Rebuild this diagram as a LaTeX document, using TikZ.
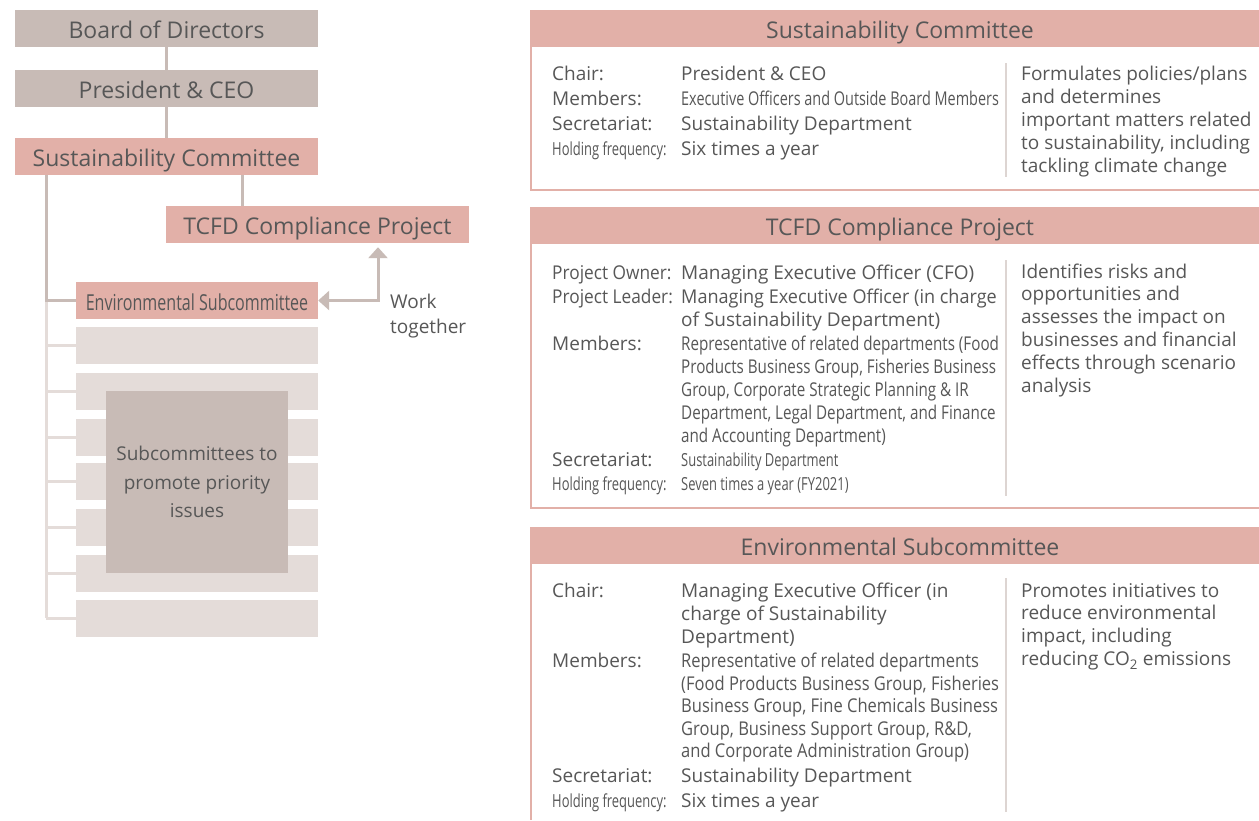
\documentclass[tikz,border=0pt]{standalone}
\usepackage{fontspec}
\setmainfont{Open Sans}
\newfontfamily\condA[FakeStretch=0.72]{Open Sans}
\newfontfamily\condB[FakeStretch=0.80]{Open Sans}
\newfontfamily\condC[FakeStretch=0.87]{Open Sans}
\newfontfamily\condD[FakeStretch=0.76]{Open Sans}
\newfontfamily\condL[FakeStretch=0.91]{Open Sans}
\newfontfamily\condE[FakeStretch=0.73]{Open Sans}
\newfontfamily\condF[FakeStretch=0.95]{Open Sans}
\usetikzlibrary{arrows.meta}
\definecolor{taupe}{HTML}{C8BBB6}
\definecolor{pinkc}{HTML}{E2B0A8}
\definecolor{lightg}{HTML}{E4DCD9}
\definecolor{txt}{HTML}{575757}
\definecolor{divc}{HTML}{DDD5D2}
\tikzset{
  box/.style={minimum height=37pt, inner sep=0pt, text=txt, text height=19pt, text depth=0pt,
              font=\fontsize{23}{27}\selectfont},
  gbox/.style={box, fill=taupe, minimum width=303pt},
  pbox/.style={box, fill=pinkc, minimum width=303pt},
  lbox/.style={fill=lightg, minimum width=242pt, minimum height=37pt, inner sep=0pt},
  conn/.style={draw=taupe, line width=3pt},
  lconn/.style={draw=lightg, line width=3pt},
  bd/.style={draw=pinkc, line width=2pt},
  dv/.style={draw=divc, line width=1.5pt},
  htext/.style={inner sep=0pt, text=txt, text height=19pt, text depth=0pt,
                font=\fontsize{23}{27}\selectfont},
  t/.style={anchor=base west, inner sep=0pt, text=txt, font=\fontsize{19}{23}\selectfont},
  ta/.style={t, font=\fontsize{18}{22}\condA},
  tb/.style={t, font=\fontsize{19}{23}\condB},
  tc/.style={t, font=\fontsize{19}{23}\condC},
  td/.style={t, font=\fontsize{19}{23}\condD},
  tl/.style={t, font=\fontsize{19}{23}\condL},
  tf/.style={t, font=\fontsize{19}{23}\condF},
}
\begin{document}
\begin{tikzpicture}[x=1pt,y=-1pt]
\useasboundingbox (0,0) rectangle (1259,820);
\fill[white] (0,0) rectangle (1259,820);

% ---------- left organisation chart ----------
\node[gbox] (bod) at (166.5,28.5) {Board of Directors};
\node[gbox] (pres) at (166.5,88.5) {President \& CEO};
\node[pbox] (sc) at (166.5,156.5) {Sustainability Committee};
\node[pbox] (tcfd) at (317.5,224.5) {TCFD Compliance Project};
\node[pbox, minimum width=242pt, font=\fontsize{22}{26}\condE] (env) at (197,300.5) {Environmental Subcommittee};

\foreach \yy [count=\i] in {345.5,391.5,437,481.5,527.5,573,618}
  \node[lbox] (g\i) at (197,\yy) {};

\node[fill=taupe, minimum width=182pt, minimum height=182pt, inner sep=0pt,
      text=txt, align=center, font=\fontsize{19}{28.5}\selectfont] (prio) at (197,482)
      {Subcommittees to\\promote priority\\issues};

\coordinate (sx) at (46,0);
\coordinate (tx) at (242,0);
\coordinate (wk) at (378,300.5);

\draw[conn] (bod.south) -- (pres.north);
\draw[conn] (pres.south) -- (sc.north);
\draw[conn] (sc.south -| tx) -- (tcfd.north -| tx);
\draw[lconn] (env.west -| sx) -- (g7.west -| sx);
\foreach \i in {1,...,7}
  \draw[lconn] (g\i.west -| sx) -- (g\i.west);
\draw[conn] (sc.south -| sx) |- (env.west);

\draw[conn, {Triangle[width=19pt,length=11pt]}-{Triangle[width=19pt,length=11pt]}, shorten >=4pt]
  (env.east) -- (wk) -- (wk |- tcfd.south);

\node[t] (wk1) at (390,308) {Work};
\node[t] (wk2) at (390,333) {together};

% ---------- panel 1: Sustainability Committee ----------
\fill[pinkc] (530,10) rectangle (1259,47);
\node[htext] (h1) at (900,28.5) {Sustainability Committee};
\draw[bd] (531,47) -- (531,190) -- (1259,190);
\draw[dv] (1006,63) -- (1006,177);

\node[t]  (a1) at (552,80)  {Chair:};
\node[t]  (a2) at (552,105) {Members:};
\node[t]  (a3) at (552,130) {Secretariat:};
\node[ta] (a4) at (552,155) {Holding frequency:};
\node[t]  (b1) at (681,80)  {President \& CEO};
\node[td] (b2) at (681,105) {Executive Officers and Outside Board Members};
\node[t]  (b3) at (681,130) {Sustainability Department};
\node[t]  (b4) at (681,155) {Six times a year};
\foreach \tx [count=\i from 0] in {Formulates policies/plans, and determines,
    important matters related, {to sustainability, including}, tackling climate change}
  \node[t] (c1-\i) at (1021,{80+\i*23}) {\tx};

% ---------- panel 2: TCFD Compliance Project ----------
\fill[pinkc] (530,207) rectangle (1259,244);
\node[htext] (h2) at (900,225.5) {TCFD Compliance Project};
\draw[bd] (531,244) -- (531,508) -- (1259,508);
\draw[dv] (1006,260) -- (1006,496);

\node[tl] (d1) at (552,279) {Project Owner:};
\node[tl] (d2) at (552,303) {Project Leader:};
\node[t]  (d3) at (552,350) {Members:};
\node[t]  (d4) at (552,466) {Secretariat:};
\node[ta] (d5) at (552,490) {Holding frequency:};
\node[t]  (e1) at (681,279) {Managing Executive Officer (CFO)};
\node[tf] (e2) at (681,303) {Managing Executive Officer (in charge};
\node[t]  (e3) at (681,326) {of Sustainability Department)};
\node[tb] (e4) at (681,350) {Representative of related departments (Food};
\node[tb] (e5) at (681,373) {Products Business Group, Fisheries Business};
\node[tb] (e6) at (681,396) {Group, Corporate Strategic Planning \& IR};
\node[tb] (e7) at (681,419) {Department, Legal Department, and Finance};
\node[tb] (e8) at (681,442) {and Accounting Department)};
\node[ta] (e9) at (681,466) {Sustainability Department};
\node[ta] (e10) at (681,490) {Seven times a year (FY2021)};
\foreach \tx [count=\i from 0] in {Identifies risks and, opportunities and,
    assesses the impact on, businesses and financial, effects through scenario, analysis}
  \node[t] (f2-\i) at (1021,{278+\i*22.8}) {\tx};

% ---------- panel 3: Environmental Subcommittee ----------
\fill[pinkc] (530,527) rectangle (1259,564);
\node[htext] (h3) at (900,545.5) {Environmental Subcommittee};
\draw[bd] (531,564) -- (531,820);
\draw[dv] (1006,578) -- (1006,812);

\node[t]  (k1) at (552,597) {Chair:};
\node[t]  (k2) at (552,667) {Members:};
\node[t]  (k3) at (552,782) {Secretariat:};
\node[ta] (k4) at (552,807) {Holding frequency:};
\node[t]  (m1) at (681,597) {Managing Executive Officer (in};
\node[t]  (m2) at (681,620) {charge of Sustainability};
\node[t]  (m3) at (681,643) {Department)};
\node[tc] (m4) at (681,667) {Representative of related departments};
\node[tc] (m5) at (681,690) {(Food Products Business Group, Fisheries};
\node[tc] (m6) at (681,712) {Business Group, Fine Chemicals Business};
\node[tc] (m7) at (681,735) {Group, Business Support Group, R\&D,};
\node[tc] (m8) at (681,757) {and Corporate Administration Group)};
\node[t]  (m9) at (681,782) {Sustainability Department};
\node[t]  (m10) at (681,807) {Six times a year};
\foreach \tx [count=\i from 0] in {Promotes initiatives to, reduce environmental,
    {impact, including}, reducing CO\textsubscript{2} emissions}
  \node[t] (n3-\i) at (1021,{597+\i*22.8}) {\tx};
\end{tikzpicture}
\end{document}
